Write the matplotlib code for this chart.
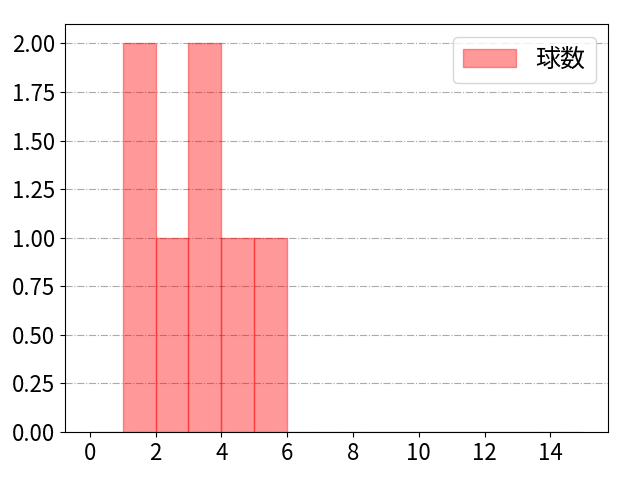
import matplotlib
matplotlib.use("Agg")
import matplotlib.pyplot as plt
from matplotlib.ticker import MultipleLocator, FormatStrFormatter

plt.rcParams['font.family'] = ['Noto Sans CJK JP', 'DejaVu Sans']

bin_edges = list(range(0, 16))
values = [1, 1, 2, 3, 3, 4, 5]  # one entry per pitch, falling into bins
label = "球数"

fig, ax = plt.subplots(figsize=(6.4, 4.8), dpi=100)
ax.hist(values, bins=bin_edges, color='red', alpha=0.4, edgecolor='red', label=label)
ax.grid(axis='y', linestyle='-.', color='#aaaaaa')
ax.set_axisbelow(True)
ax.xaxis.set_major_locator(MultipleLocator(2))
ax.tick_params(labelsize=16)
ax.yaxis.set_major_formatter(FormatStrFormatter('%.2f'))
ax.legend(fontsize=18, handlelength=2.1)
fig.subplots_adjust(left=65/640, right=608/640, top=1-24/480, bottom=1-432/480)
fig.savefig("out.png", dpi=100)
